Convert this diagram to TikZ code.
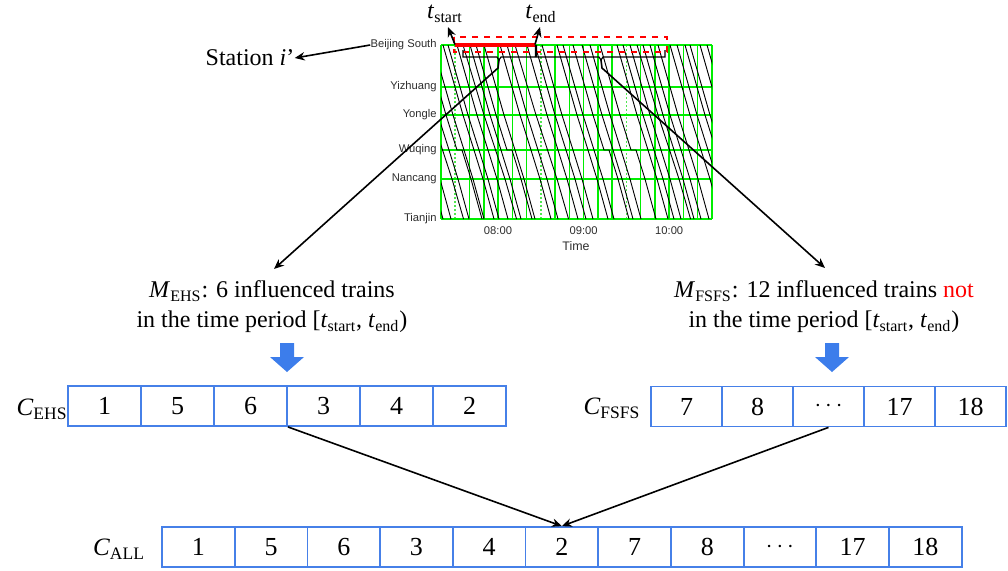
\documentclass[tikz,border=0pt]{standalone}
\usepackage{fontspec}
\setmainfont{Liberation Serif}
\newfontfamily\arialf{Liberation Sans}
\usetikzlibrary{arrows.meta}
\definecolor{gridg}{RGB}{0,238,0}
\definecolor{gridl}{RGB}{80,230,80}
\definecolor{boxb}{RGB}{70,128,232}
\definecolor{arrb}{RGB}{60,125,235}
\definecolor{lbl}{RGB}{45,45,45}
\begin{document}
\begin{tikzpicture}[x=0.5pt,y=-0.5pt,
  cell/.style={draw=boxb, line width=0.9pt, minimum height=20pt, inner sep=0pt, font=\fontsize{13}{13}\selectfont},
  ehscell/.style={cell, minimum width=36.5pt},
  fscell/.style={cell, minimum width=35.5pt},
  allcell/.style={cell, minimum width=36.35pt},
  stn/.style={font=\arialf\fontsize{5.6}{6}\selectfont, text=lbl, anchor=east, inner sep=0pt},
  tick/.style={font=\arialf\fontsize{5.6}{6}\selectfont, text=lbl, inner sep=0pt},
  maintext/.style={font=\fontsize{12}{15}\selectfont, align=center, inner sep=0pt},
  clabel/.style={font=\fontsize{12.5}{14}\selectfont, inner sep=0pt},
  gridline/.style={draw=gridg, line width=0.75pt},
  gridvert/.style={draw=gridg, line width=0.75pt},
  griddot/.style={draw=gridl, line width=0.8pt, dash pattern=on 0.8pt off 1.2pt},
  train/.style={draw=black, line width=0.45pt},
  blk/.style={draw=black, line width=0.8pt},
  thinblk/.style={draw=black, line width=0.6pt},
  tip/.style={-{Stealth[length=5pt,width=4.2pt]}},
  blockarrow/.style={fill=arrb}
]
\useasboundingbox (0,0) rectangle (1008,570);

% ---------- chart grid ----------
\foreach \i in {0,...,19} {
  \pgfmathsetmacro{\xx}{441+\i*14.263}
  \ifnum\i=1 \draw[griddot] (\xx,45) -- (\xx,219);
  \else\ifnum\i=7 \draw[griddot] (\xx,45) -- (\xx,219);
  \else\ifnum\i=13 \draw[griddot] (\xx,45) -- (\xx,219);
  \else \draw[gridvert] (\xx,45) -- (\xx,219);
  \fi\fi\fi
}
\foreach \yy in {45,87,115,150,179,219}
  \draw[gridline] (441,\yy) -- (712,\yy);

% ---------- train lines ----------
\begin{scope}
\clip (441,45) rectangle (712,219);
\foreach \x/\d/\s in {392/0/1, 400/0/1, 410/0/1.05, 418/0/1, 426/5/1, 433/0/1,
  443/0/1, 448/0/1, 457/0/1, 463/0/1.05, 470/0/1, 476/5/1, 484/0/1,
  500/0/1, 507/0/1, 515/0/1.05, 527/0/1, 535/0/1, 542/0/1, 557/0/1,
  563/0/1, 573/5/1, 582/0/1, 590/0/1, 600/5/1, 617/0/1, 623/0/1,
  630/0/1, 637/0/1.05, 643/0/1, 650/0/1, 658/0/1, 670/0/1, 677/0/1,
  685/0/1, 690/0/1, 700/0/1, 707/0/1}
{
  \draw[train] (\x,45) -- ({\x+12*\s},87) -- ({\x+20*\s},115) -- ({\x+31*\s},150)
     -- ({\x+31*\s+\d},150) -- ({\x+40*\s+\d},179) -- ({\x+51*\s+\d},219);
}
\end{scope}

% ---------- station labels and ticks ----------
\node[stn] (bs) at (437,45) {Beijing South};
\node[stn] (yz) at (437,87) {Yizhuang};
\node[stn] (yl) at (437,115) {Yongle};
\node[stn] (wq) at (437,150) {Wuqing};
\node[stn] (nc) at (437,179) {Nancang};
\node[stn] (tj) at (437,219) {Tianjin};
\node[tick] (t8) at (498,231) {08:00};
\node[tick] (t9) at (583.6,231) {09:00};
\node[tick] (t10) at (669.2,231) {10:00};
\node[tick, font=\arialf\fontsize{6.2}{7}\selectfont] (time) at (576,246) {Time};

% ---------- station i' ----------
\node[maintext] (station) at (250,58) {Station \textit{i}’};
\draw[blk, tip] (bs.west) -- (station.east);

% ---------- red period ----------
\draw[red, dashed, line width=0.6pt] (454,37) rectangle (667,52);
\coordinate (rs) at (455,44.5);
\coordinate (re) at (535,44.5);
\draw[red, line width=2pt] (rs) -- (re);
\node[maintext] (tstart) at (445,14) {\textit{t}\textsubscript{start}};
\node[maintext] (tend) at (541,14) {\textit{t}\textsubscript{end}};
\coordinate (tsa) at (448,27);
\coordinate (tea) at (540,27);
\draw[blk, tip] (rs) -- (tsa);
\draw[blk, tip] (re) -- (tea);

% ---------- braces ----------
\draw[thinblk] (463,50) -- (463,57) -- (497,57) -- (499,60) -- (501,57) -- (535.5,57) -- (535.5,45);
\draw[thinblk] (536.5,45) -- (536.5,57) -- (599,57) -- (601,60) -- (603,57) -- (665,57) -- (665,50);
\coordinate (b1) at (499,60);
\coordinate (b2) at (601,60);
\node[maintext] (ehstext) at (272,307) {\textit{M}\textsubscript{EHS}: 6 influenced trains\\in the time period [\textit{t}\textsubscript{start}, \textit{t}\textsubscript{end})};
\node[maintext] (fstext) at (824,307) {\textit{M}\textsubscript{FSFS}: 12 influenced trains \textcolor{red}{not}\\in the time period [\textit{t}\textsubscript{start}, \textit{t}\textsubscript{end})};
\coordinate (a1) at (274,269);
\coordinate (a2) at (825,268);
\draw[blk, tip] (b1) -- (498,68) -- (a1);
\draw[blk, tip] (b2) -- (602,68) -- (a2);

% ---------- block arrows ----------
\fill[blockarrow] (280,343) -- (294,343) -- (294,357) -- (304,357) -- (287,372) -- (270,357) -- (280,357) -- cycle;
\fill[blockarrow] (825,343) -- (839,343) -- (839,357) -- (849,357) -- (832,372) -- (815,357) -- (825,357) -- cycle;

% ---------- C_EHS ----------
\node[clabel] (cehs) at (42,409) {\textit{C}\textsubscript{EHS}};
\foreach \v [count=\k] in {1,5,6,3,4,2}
  \node[ehscell] (ehs\k) at ({104.5+73*(\k-1)},406) {\v};

% ---------- C_FSFS ----------
\node[clabel] (cfs) at (612,408) {\textit{C}\textsubscript{FSFS}};
\foreach \v [count=\k] in {7,8,\ensuremath{\cdots},17,18}
  \node[fscell] (fs\k) at ({686.5+71*(\k-1)},406.5) {\v};

% ---------- C_ALL ----------
\node[clabel] (call) at (119,549) {\textit{C}\textsubscript{ALL}};
\foreach \v [count=\k] in {1,5,6,3,4,2,7,8,\ensuremath{\cdots},17,18}
  \node[allcell] (all\k) at ({198.35+72.7*(\k-1)},547) {\v};

\draw[blk, tip] (ehs3.south east) -- (all6.north);
\draw[blk, tip] (fs3.south) -- (all6.north);
\end{tikzpicture}
\end{document}
